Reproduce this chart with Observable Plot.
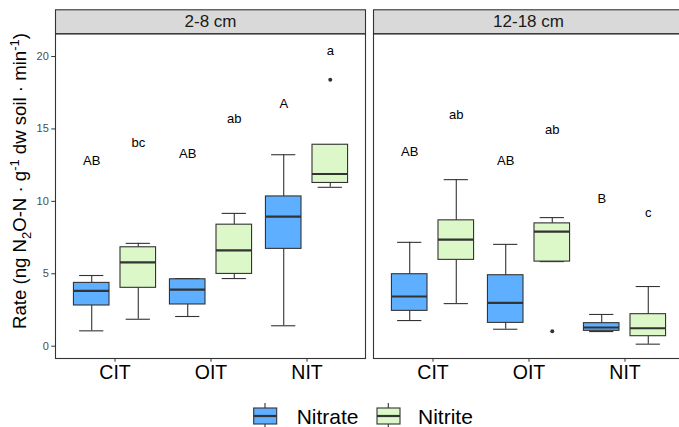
<!DOCTYPE html>
<html>
<head>
<meta charset="utf-8">
<script src="https://cdn.jsdelivr.net/npm/d3@7"></script>
<script src="https://cdn.jsdelivr.net/npm/@observablehq/plot@0.6"></script>
<style>
html, body { margin: 0; padding: 0; background: #fff; overflow: hidden; width: 679px; height: 427px; }
#wrap { position: relative; width: 679px; height: 427px; overflow: hidden; font-family: "Liberation Sans", Arial, sans-serif; }
#wrap svg { max-width: none !important; display: block; }
</style>
</head>
<body>
<div id="wrap"></div>
<script>
// ---- data ----
const depths = ["2-8 cm", "12-18 cm"];
const treatments = ["CIT", "OIT", "NIT"];
const sources = ["Nitrate", "Nitrite"];
const colors = ["#5EAFFF", "#DCF7C8"];
const yTicks = [0, 5, 10, 15, 20];

// order: depth (outer) -> treatment -> source (inner)
const whiskerLow  = [1.06, 1.86, 2.05, 4.67, 1.41, 10.97,   1.77, 2.94, 1.17, 5.84, 1.01, 0.14];
const quart1      = [2.81, 4.03, 2.88, 4.99, 6.72, 11.27,   2.44, 5.96, 1.61, 5.84, 1.06, 0.69];
const medians     = [3.82, 5.79, 3.91, 6.62, 8.94, 11.89,   3.43, 7.36, 2.99, 7.91, 1.29, 1.24];
const quart3      = [4.37, 6.83, 4.62, 8.39, 10.34, 13.91,  4.97, 8.69, 4.90, 8.48, 1.59, 2.21];
const whiskerHigh = [4.88, 7.10, 4.67, 9.17, 13.22, 13.91,  7.17, 11.50, 7.03, 8.88, 2.19, 4.12];
const letters     = ["AB", "bc", "AB", "ab", "A", "a",      "AB", "ab", "AB", "ab", "B", "c"];
const letterY     = [12.81, 14.05, 13.27, 15.72, 16.76, 20.39, 13.45, 15.98, 12.81, 14.92, 10.19, 9.24];

const outlierDepth     = ["2-8 cm", "12-18 cm"];
const outlierTreatment = ["NIT", "OIT"];
const outlierSource    = ["Nitrite", "Nitrite"];
const outlierValue     = [18.39, 1.03];

// ---- build table ----
const rows = [];
let k = 0;
for (const depth of depths) for (const treatment of treatments) for (const source of sources) {
  rows.push({depth, treatment, source, lo: whiskerLow[k], q1: quart1[k], med: medians[k], q3: quart3[k], hi: whiskerHigh[k], letter: letters[k], ly: letterY[k]});
  k++;
}
const outliers = outlierValue.map((v, i) => ({depth: outlierDepth[i], treatment: outlierTreatment[i], source: outlierSource[i], value: v}));

// ---- layout ----
const W = 686, H = 392;
const mL = 54.5, mR = 2.3, mT = 33.3, mB = 34;
const stripH = 24;
const panelGap = 8.4;
const facetW = (W - mL - mR - panelGap) / 2;
const step = facetW / 3.2;
const dodge = step * 0.24;
const boxInset = (step - step * 0.377) / 2;
const capInset = (step - step * 0.26) / 2;
const panelH = H - mT - mB;
const ink = "#333333";

const marks = [
  Plot.frame({fill: "#d9d9d9", stroke: ink, strokeWidth: 1.1, insetTop: -stripH, insetBottom: panelH}),
  Plot.text(depths, {fx: d => d, text: d => d, frameAnchor: "top", lineAnchor: "middle", dy: -stripH / 2, fontSize: 17, fill: "#1a1a1a"})
];

sources.forEach((s, si) => {
  const d = rows.filter(r => r.source === s);
  const o = outliers.filter(r => r.source === s);
  const off = si === 0 ? -dodge : dodge;
  marks.push(
    Plot.ruleX(d, {fx: "depth", x: "treatment", y1: "lo", y2: "hi", dx: off, stroke: ink, strokeWidth: 1.1}),
    Plot.tickY(d, {fx: "depth", x: "treatment", y: "lo", dx: off, insetLeft: capInset, insetRight: capInset, stroke: ink, strokeWidth: 1.1}),
    Plot.tickY(d, {fx: "depth", x: "treatment", y: "hi", dx: off, insetLeft: capInset, insetRight: capInset, stroke: ink, strokeWidth: 1.1}),
    Plot.barY(d, {fx: "depth", x: "treatment", y1: "q1", y2: "q3", dx: off, insetLeft: boxInset, insetRight: boxInset, fill: colors[si], stroke: ink, strokeWidth: 1.1}),
    Plot.tickY(d, {fx: "depth", x: "treatment", y: "med", dx: off, insetLeft: boxInset, insetRight: boxInset, stroke: ink, strokeWidth: 2.2}),
    Plot.dot(o, {fx: "depth", x: "treatment", y: "value", dx: off, r: 2, fill: ink, stroke: null}),
    Plot.text(d, {fx: "depth", x: "treatment", y: "ly", text: "letter", dx: off, fontSize: 13, fill: "#000"})
  );
});

marks.push(
  Plot.frame({stroke: ink, strokeWidth: 1.1}),
  Plot.axisX({anchor: "bottom", tickSize: 3.7, tickPadding: 3, fontSize: 19.5, fill: "#000", stroke: ink, label: null}),
  Plot.axisY({anchor: "left", ticks: yTicks, tickSize: 3.7, tickPadding: 3, fontSize: 11, fill: "#4d4d4d", stroke: ink, label: null})
);

const chart = Plot.plot({
  width: W, height: H,
  marginLeft: mL, marginRight: mR, marginTop: mT, marginBottom: mB,
  style: {fontFamily: "'Liberation Sans', Arial, sans-serif", background: "white", maxWidth: "none", overflow: "visible"},
  fx: {domain: depths, paddingInner: panelGap / (facetW + panelGap), paddingOuter: 0, axis: null, label: null},
  x: {type: "band", domain: treatments, paddingInner: 0, paddingOuter: 0.1, align: 0.5, label: null},
  y: {domain: [-0.85, 21.57], label: null},
  marks
});

// y-axis title with sub/superscripts
const svg = d3.select(chart);
const t = svg.append("text")
  .attr("transform", "translate(25.5,181) rotate(-90)")
  .attr("text-anchor", "middle")
  .attr("font-size", 18.6)
  .attr("fill", "#000")
  .attr("font-family", "'Liberation Sans', Arial, sans-serif");
t.append("tspan").text("Rate (ng N");
t.append("tspan").attr("font-size", 13).attr("dy", 5).text("2");
t.append("tspan").attr("dy", -5).text("O-N · g");
t.append("tspan").attr("font-size", 13).attr("dy", -7).text("-1");
t.append("tspan").attr("dy", 7).text(" dw soil · min");
t.append("tspan").attr("font-size", 13).attr("dy", -7).text("-1");
t.append("tspan").attr("dy", 7).text(")");

document.getElementById("wrap").appendChild(chart);

// legend (below the plot svg)
const leg = d3.select("#wrap").append("svg").attr("width", 679).attr("height", 35).style("display", "block");
const legX = [252.7, 376];
const legTextX = [296.7, 418];
sources.forEach((s, i) => {
  const g = leg.append("g").attr("transform", `translate(${legX[i]},0)`);
  g.append("line").attr("x1", 12.3).attr("x2", 12.3).attr("y1", 11).attr("y2", 35).attr("stroke", ink).attr("stroke-width", 1.1);
  g.append("rect").attr("x", 1).attr("y", 16).attr("width", 23).attr("height", 16).attr("fill", colors[i]).attr("stroke", ink).attr("stroke-width", 1.1);
  g.append("line").attr("x1", 1).attr("x2", 24).attr("y1", 24).attr("y2", 24).attr("stroke", ink).attr("stroke-width", 2.2);
  leg.append("text").attr("x", legTextX[i]).attr("y", 32).attr("font-size", 21).attr("fill", "#000")
    .attr("font-family", "'Liberation Sans', Arial, sans-serif").text(s);
});
</script>
</body>
</html>
